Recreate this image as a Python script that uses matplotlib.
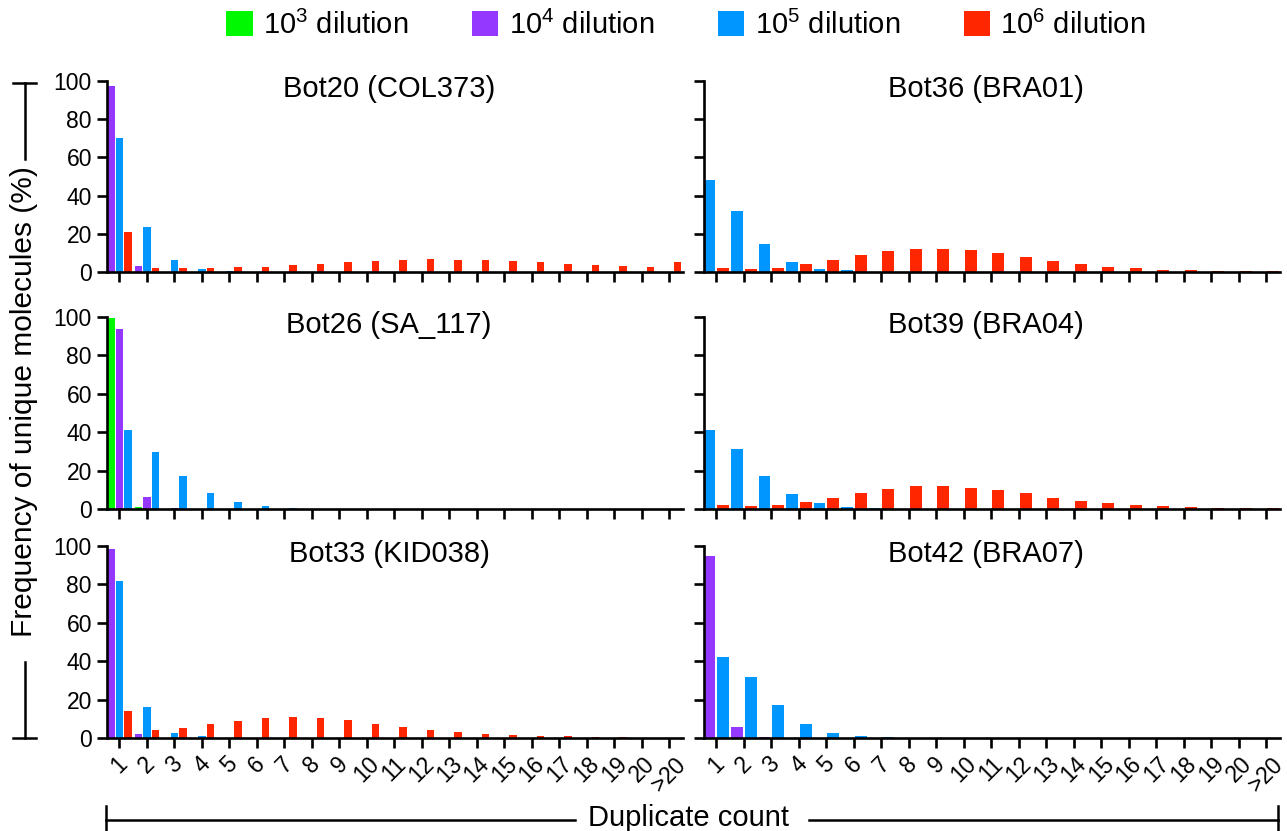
import matplotlib
matplotlib.use('Agg')
import matplotlib.pyplot as plt
import numpy as np
from matplotlib.lines import Line2D
from matplotlib.patches import Patch

plt.rcParams['font.family'] = ['Liberation Sans', 'DejaVu Sans']
plt.rcParams['mathtext.fontset'] = 'custom'
plt.rcParams['mathtext.rm'] = 'Liberation Sans'

# duplicate count categories
counts = [str(i) for i in range(1, 21)] + ['>20']

# series values (% of unique molecules), one list per panel and dilution
bot20_1e4 = [97.2, 3.3, 0.1, 0, 0, 0, 0, 0, 0, 0, 0, 0, 0, 0, 0, 0, 0, 0, 0, 0, 0]
bot20_1e5 = [70.1, 23.5, 6.1, 1.4, 0.5, 0.2, 0, 0, 0, 0, 0, 0, 0, 0, 0, 0, 0, 0, 0, 0, 0]
bot20_1e6 = [20.7, 2.3, 1.9, 1.9, 2.4, 2.8, 3.8, 4.3, 5.2, 5.7, 6.3, 6.6, 6.4, 6.3, 5.7, 5.0, 4.3, 3.7, 3.0, 2.4, 5.2]

bot36_1e5 = [48.2, 31.7, 14.8, 5.4, 1.7, 0.9, 0.1, 0, 0, 0, 0, 0, 0, 0, 0, 0, 0, 0, 0, 0, 0]
bot36_1e6 = [2.3, 1.6, 2.3, 4.0, 6.4, 8.9, 10.8, 12.0, 12.2, 11.5, 9.7, 7.8, 5.7, 4.2, 2.8, 1.9, 1.2, 0.9, 0.5, 0.5, 0.7]

bot26_1e3 = [99.5, 1.2, 0, 0, 0, 0, 0, 0, 0, 0, 0, 0, 0, 0, 0, 0, 0, 0, 0, 0, 0]
bot26_1e4 = [93.9, 6.3, 0.3, 0, 0, 0, 0, 0, 0, 0, 0, 0, 0, 0, 0, 0, 0, 0, 0, 0, 0]
bot26_1e5 = [41.2, 29.6, 17.4, 8.3, 3.7, 1.4, 0.7, 0.2, 0, 0, 0, 0, 0, 0, 0, 0, 0, 0, 0, 0, 0]

bot39_1e5 = [41.2, 31.1, 17.4, 7.7, 3.0, 1.2, 0.3, 0, 0, 0, 0, 0, 0, 0, 0, 0, 0, 0, 0, 0, 0]
bot39_1e6 = [2.3, 1.4, 2.3, 3.7, 5.9, 8.2, 10.4, 12.0, 12.0, 11.1, 9.7, 8.2, 5.9, 4.3, 3.1, 1.9, 1.4, 0.9, 0.7, 0.3, 0.3]

bot33_1e4 = [98.4, 2.1, 0.1, 0, 0, 0, 0, 0, 0, 0, 0, 0, 0, 0, 0, 0, 0, 0, 0, 0, 0]
bot33_1e5 = [81.8, 16.3, 2.6, 0.9, 0.2, 0, 0, 0, 0, 0, 0, 0, 0, 0, 0, 0, 0, 0, 0, 0, 0]
bot33_1e6 = [13.9, 4.3, 5.2, 7.1, 9.0, 10.2, 10.8, 10.2, 9.2, 7.5, 5.7, 4.3, 3.0, 2.1, 1.4, 1.0, 0.9, 0.7, 0.3, 0.2, 0.2]

bot42_1e4 = [94.8, 5.9, 0.7, 0, 0, 0, 0, 0, 0, 0, 0, 0, 0, 0, 0, 0, 0, 0, 0, 0, 0]
bot42_1e5 = [42.2, 31.9, 17.0, 7.1, 2.6, 1.0, 0.7, 0.2, 0, 0, 0, 0, 0, 0, 0, 0, 0, 0, 0, 0, 0]

titles = ['Bot20 (COL373)', 'Bot36 (BRA01)', 'Bot26 (SA_117)',
          'Bot39 (BRA04)', 'Bot33 (KID038)', 'Bot42 (BRA07)']
legend_labels = [r'$\mathregular{10^3}$ dilution', r'$\mathregular{10^4}$ dilution',
                 r'$\mathregular{10^5}$ dilution', r'$\mathregular{10^6}$ dilution']

green, purple, blue, red = '#00F900', '#9437FF', '#0096FF', '#FF2600'
colors = [green, purple, blue, red]

panels = [
    [(bot20_1e4, purple), (bot20_1e5, blue), (bot20_1e6, red)],
    [(bot36_1e5, blue), (bot36_1e6, red)],
    [(bot26_1e3, green), (bot26_1e4, purple), (bot26_1e5, blue)],
    [(bot39_1e5, blue), (bot39_1e6, red)],
    [(bot33_1e4, purple), (bot33_1e5, blue), (bot33_1e6, red)],
    [(bot42_1e4, purple), (bot42_1e5, blue)],
]

W, H = 1287, 831
fig = plt.figure(figsize=(W / 100, H / 100), dpi=100)

cols = [(106.5, 683), (703.5, 1280)]
rows = [(81, 272), (317, 509), (546, 738)]

x = np.arange(1, len(counts) + 1)
for k, series in enumerate(panels):
    r, c = divmod(k, 2)
    left, right = cols[c]
    top, bottom = rows[r]
    ax = fig.add_axes([left / W, 1 - bottom / H, (right - left) / W, (bottom - top) / H])
    n = len(series)
    pitch, width = (0.31, 0.27) if n == 3 else (0.5, 0.43)
    for j, (vals, col) in enumerate(series):
        ax.bar(x + (j - (n - 1) / 2) * pitch, vals, width=width, color=col, linewidth=0)
    ax.set_xlim(0.53, 21.5)
    ax.set_ylim(0, 100)
    ax.set_yticks(range(0, 101, 20))
    ax.set_xticks(x)
    for s in ['top', 'right']:
        ax.spines[s].set_visible(False)
    for s in ['left', 'bottom']:
        ax.spines[s].set_linewidth(1.9)
    ax.tick_params(width=1.9, length=7.5, labelsize=16.5, pad=3)
    if r == 2:
        ax.set_xticklabels(counts, rotation=45, ha='center', va='top')
    else:
        ax.tick_params(labelbottom=False)
    if c == 1:
        ax.tick_params(labelleft=False)
    ax.text(0.49, 0.958, titles[k], transform=ax.transAxes, ha='center', va='center', fontsize=21)

handles = [Patch(facecolor=cl, edgecolor='none') for cl in colors]
fig.legend(handles, legend_labels, loc='center', bbox_to_anchor=(686 / W, 1 - 25 / H), ncol=4,
           frameon=False, fontsize=21, handlelength=0.9, handleheight=0.9, handletextpad=0.35,
           columnspacing=2.2, borderaxespad=0, borderpad=0)


def line(xs, ys):
    fig.add_artist(Line2D([v / W for v in xs], [1 - v / H for v in ys],
                          transform=fig.transFigure, color='black', lw=1.8))


# y label with bracket lines
fig.text(24 / W, 1 - 402 / H, 'Frequency of unique molecules (%)', rotation=90,
         ha='center', va='center', fontsize=21.5)
line([24.5, 24.5], [83, 159])
line([13, 36], [83, 83])
line([24.5, 24.5], [662, 738])
line([13, 36], [738, 738])

# x label with bracket lines
fig.text(688 / W, 1 - 818 / H, 'Duplicate count', ha='center', va='center', fontsize=21)
line([106, 575], [820, 820])
line([106, 106], [806, 840])
line([809, 1278], [820, 820])
line([1278, 1278], [806, 840])

fig.savefig('out.png', dpi=100)
